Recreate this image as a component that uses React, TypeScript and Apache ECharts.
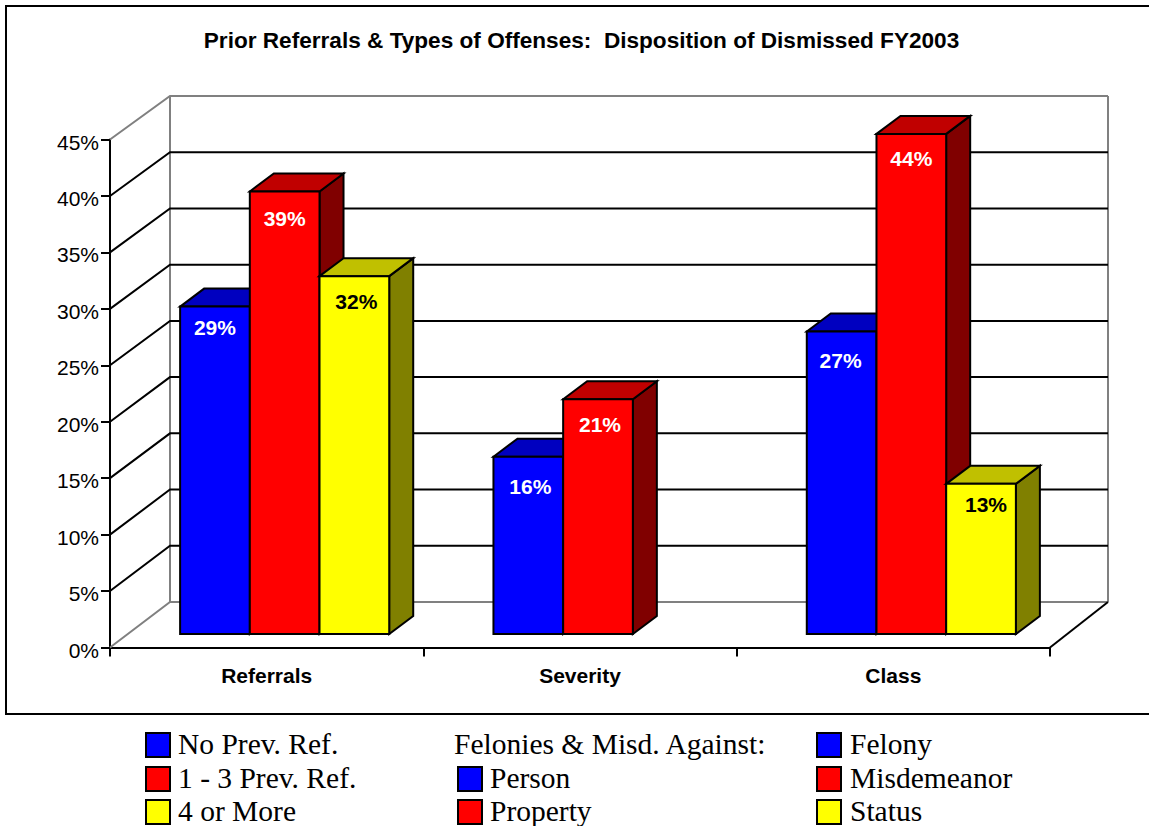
import React, { useEffect, useRef } from "react";
import * as echarts from "echarts";

const titleText = "Prior Referrals & Types of Offenses:  Disposition of Dismissed FY2003";
const categories = ["Referrals", "Severity", "Class"];
const valueTicks = [0, 5, 10, 15, 20, 25, 30, 35, 40, 45];
const blueValues: (number | null)[] = [29, 15.7, 26.8];
const redValues: (number | null)[] = [39.2, 20.8, 44.3];
const yellowValues: (number | null)[] = [31.7, null, 13.3];

const legendCol1 = ["No Prev. Ref.", "1 - 3 Prev. Ref.", "4 or More"];
const legendCol2Head = "Felonies & Misd. Against:";
const legendCol2 = ["Person", "Property"];
const legendCol3 = ["Felony", "Misdemeanor", "Status"];

// layout nudges for the value labels [dx, dy below bar top], per series & category
const blueNudge = [[0, 21], [2, 30], [-1, 29]];
const redNudge = [[0, 27], [2, 25], [0, 25]];
const yellowNudge = [[2, 25], [0, 0], [5, 21]];

const BLUE = { front: "#0000FF", top: "#0000C0", side: "#000080", label: "#FFFFFF" };
const RED = { front: "#FF0000", top: "#C00000", side: "#800000", label: "#FFFFFF" };
const YELLOW = { front: "#FFFF00", top: "#C0C000", side: "#808000", label: "#000000" };

const SANS = '"Liberation Sans", Arial, sans-serif';
const SERIF = '"Liberation Serif", "Times New Roman", serif';
const WALL_DX = 60;
const WALL_DX_RIGHT = 58;
const WALL_DY_BOTTOM = -45.5;
const WALL_DY_TOP = -43.5;
const FLOOR_DX = 18;
const FLOOR_DY = -13.5;
const DEPTH_DX = 24;
const DEPTH_DY = -18;
const SLOT = 69.7;
const LINE = 2;

function barSeries(values: (number | null)[], slot: number, col: any, nudge: number[][]) {
  const data = values
    .map((v, i) => (v == null ? null : [i, v]))
    .filter((d) => d !== null);
  return {
    type: "custom",
    clip: false,
    silent: true,
    z: 5,
    data,
    encode: { x: 0, y: 1 },
    renderItem: (_p: any, api: any) => {
      const i = api.value(0);
      const v = api.value(1);
      const [cx, yTop0] = api.coord([i, v]);
      const [, yBase0] = api.coord([i, 0]);
      const x0 = cx + FLOOR_DX - 1.5 * SLOT + slot * SLOT;
      const x1 = x0 + SLOT;
      const yTop = yTop0 + FLOOR_DY;
      const yBase = yBase0 + FLOOR_DY;
      const stroke = { stroke: "#000", lineWidth: LINE, lineJoin: "miter" };
      return {
        type: "group",
        children: [
          {
            type: "polygon",
            shape: { points: [[x1, yTop], [x1 + DEPTH_DX, yTop + DEPTH_DY], [x1 + DEPTH_DX, yBase + DEPTH_DY], [x1, yBase]] },
            style: { fill: col.side, ...stroke },
          },
          {
            type: "polygon",
            shape: { points: [[x0, yTop], [x0 + DEPTH_DX, yTop + DEPTH_DY], [x1 + DEPTH_DX, yTop + DEPTH_DY], [x1, yTop]] },
            style: { fill: col.top, ...stroke },
          },
          {
            type: "polygon",
            shape: { points: [[x0, yTop], [x1, yTop], [x1, yBase], [x0, yBase]] },
            style: { fill: col.front, ...stroke },
          },
          {
            type: "text",
            style: {
              text: Math.round(v) + "%",
              x: (x0 + x1) / 2 + nudge[i][0],
              y: yTop + nudge[i][1],
              fill: col.label,
              fontFamily: SANS,
              fontSize: 21,
              fontWeight: "bold",
              align: "center",
              verticalAlign: "middle",
            },
          },
        ],
      };
    },
  };
}

const wallSeries = {
  type: "custom",
  clip: false,
  silent: true,
  z: 1,
  data: valueTicks.map((t) => [0, t]),
  encode: { x: 0, y: 1 },
  renderItem: (p: any, api: any) => {
    const t = api.value(1);
    const y = api.coord([0, t])[1];
    const maxT = valueTicks[valueTicks.length - 1];
    const left = p.coordSys.x;
    const right = left + p.coordSys.width;
    const dy = WALL_DY_BOTTOM + ((WALL_DY_TOP - WALL_DY_BOTTOM) * t) / maxT;
    const edge = t === valueTicks[0] || t === maxT;
    const color = edge ? "#808080" : "#000000";
    const children: any[] = [
      {
        type: "polyline",
        shape: { points: [[left, y], [left + WALL_DX, y + dy], [right + WALL_DX_RIGHT, y + dy]] },
        style: { fill: "none", stroke: color, lineWidth: LINE },
      },
    ];
    if (t === valueTicks[0]) {
      const yTop = p.coordSys.y + WALL_DY_TOP;
      children.push(
        {
          type: "line",
          shape: { x1: left + WALL_DX, y1: y + dy, x2: left + WALL_DX, y2: yTop },
          style: { stroke: "#808080", lineWidth: LINE },
        },
        {
          type: "line",
          shape: { x1: right + WALL_DX_RIGHT, y1: y + dy, x2: right + WALL_DX_RIGHT, y2: yTop },
          style: { stroke: "#808080", lineWidth: LINE },
        },
        {
          type: "line",
          shape: { x1: right, y1: y, x2: right + WALL_DX_RIGHT, y2: y + dy },
          style: { stroke: "#000", lineWidth: LINE },
        }
      );
    }
    return { type: "group", children };
  },
};

function legendSwatch(x: number, y: number, w: number, h: number, fill: string) {
  return {
    type: "rect",
    shape: { x, y, width: w, height: h },
    style: { fill, stroke: "#000", lineWidth: 2 },
  };
}
function legendText(x: number, y: number, text: string) {
  return {
    type: "text",
    x,
    y,
    style: {
      text,
      fill: "#000",
      fontFamily: SERIF,
      fontSize: 29.5,
      align: "left",
      verticalAlign: "middle",
    },
  };
}

export default function App() {
  const ref = useRef<HTMLDivElement>(null);
  useEffect(() => {
    document.body.style.margin = "0";
    document.body.style.background = "#fff";
    const chart = echarts.init(ref.current!, null, { renderer: "svg" });
    const rowY = [744, 778, 810.5];
    const swatchColors = [BLUE.front, RED.front, YELLOW.front];
    chart.setOption({
      animation: false,
      backgroundColor: "#FFFFFF",
      title: {
        text: titleText,
        left: 576.5,
        top: 24,
        textAlign: "center",
        textStyle: { fontFamily: SANS, fontSize: 22.6, fontWeight: "bold", color: "#000" },
      },
      grid: { left: 110, top: 139.5, width: 940, height: 508, containLabel: false },
      xAxis: {
        type: "category",
        data: categories,
        axisLine: { lineStyle: { color: "#000", width: LINE } },
        axisTick: { show: true, length: 9, lineStyle: { color: "#000", width: LINE } },
        axisLabel: { margin: 17, color: "#000", fontFamily: SANS, fontSize: 21, fontWeight: "bold" },
        splitLine: { show: false },
      },
      yAxis: {
        type: "value",
        min: 0,
        max: 45,
        interval: 5,
        axisLine: { show: true, lineStyle: { color: "#000", width: LINE } },
        axisTick: { show: true, length: 9, lineStyle: { color: "#000", width: LINE } },
        axisLabel: {
          margin: 11,
          color: "#000",
          fontFamily: SANS,
          fontSize: 21,
          verticalAlign: "top",
          lineHeight: 5,
          formatter: (v: number) => v + "%",
        },
        splitLine: { show: false },
      },
      series: [
        wallSeries,
        barSeries(blueValues, 0, BLUE, blueNudge),
        barSeries(redValues, 1, RED, redNudge),
        barSeries(yellowValues, 2, YELLOW, yellowNudge),
      ],
      graphic: [
        {
          type: "polyline",
          shape: { points: [[1149, 6], [6, 6], [6, 714], [1149, 714]] },
          style: { fill: "none", stroke: "#000", lineWidth: 2 },
        },
        ...legendCol1.flatMap((t, i) => [
          legendSwatch(146, [733, 767, 800][i], 24, 24, swatchColors[i]),
          legendText(178, rowY[i], t),
        ]),
        legendText(454, rowY[0], legendCol2Head),
        ...legendCol2.flatMap((t, i) => [
          legendSwatch(458, [767, 800][i], 24, 24, swatchColors[i]),
          legendText(490, rowY[i + 1], t),
        ]),
        ...legendCol3.flatMap((t, i) => [
          legendSwatch(817, [733, 767, 800][i], 24, 24, swatchColors[i]),
          legendText(850, rowY[i], t),
        ]),
      ],
    });
    return () => chart.dispose();
  }, []);
  return <div ref={ref} style={{ position: "absolute", left: 0, top: 0, width: 1149, height: 826 }} />;
}
